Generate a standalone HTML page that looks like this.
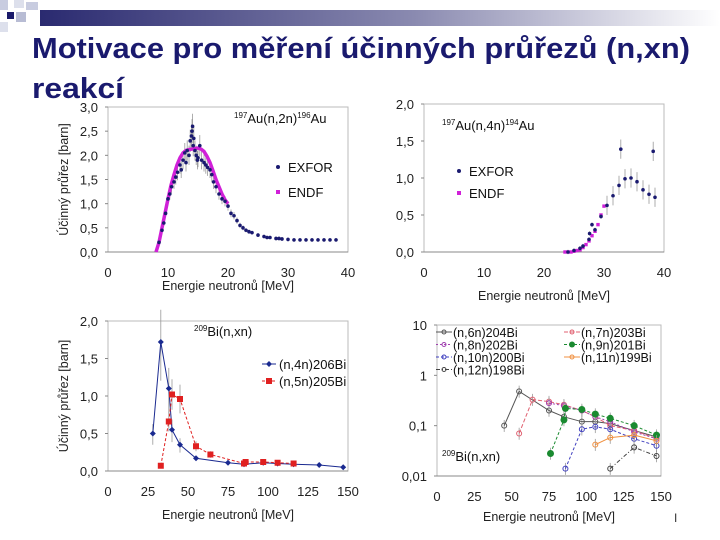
<!DOCTYPE html>
<html><head><meta charset="utf-8"><style>
html,body{margin:0;padding:0;background:#fff;}
svg{display:block;font-family:"Liberation Sans",sans-serif;}
</style></head><body>
<svg id="s" width="720" height="540" viewBox="0 0 720 540">
<defs><linearGradient id="g" x1="0" x2="1"><stop offset="0" stop-color="#2a2a70"/><stop offset="0.55" stop-color="#8a8ab0"/><stop offset="1" stop-color="#ffffff"/></linearGradient></defs>
<g>
<rect x="40" y="10" width="680" height="16" fill="url(#g)"/>
<rect x="0" y="0" width="8" height="10" fill="#c8cce0"/>
<rect x="14" y="0" width="10" height="8" fill="#dde0ec"/>
<rect x="7" y="12" width="7" height="7" fill="#1a1a6a"/>
<rect x="16" y="12" width="10" height="10" fill="#b8bcd4"/>
<rect x="0" y="22" width="8" height="10" fill="#dde0ec"/>
<rect x="26" y="2" width="12" height="8" fill="#c8cce0"/>
</g>
<text x="32" y="58" font-size="29" font-weight="bold" fill="#1a1a6e" textLength="658" lengthAdjust="spacingAndGlyphs">Motivace pro měření účinných průřezů (n,xn)</text>
<text x="32" y="98" font-size="29" font-weight="bold" fill="#1a1a6e" textLength="92" lengthAdjust="spacingAndGlyphs">reakcí</text>
<text x="674" y="522" font-size="12" fill="#333">I</text>
<g id="c1"></g>
<g id="c2"></g>
<g id="c3"></g>
<g id="c4"></g>
</svg>
<script>
// Chart 1 data
const c1ExforE=[8.5,9,9.3,9.6,10,10.3,10.6,11,11.3,11.6,12,12.2,12.5,12.8,13,13.2,13.5,13.7,13.9,14,14.1,14.2,14.3,14.5,14.7,14.9,15,15.3,15.6,16,16.3,16.6,17,17.3,17.6,18,18.5,19,19.5,20,20.5,21,21.5,22,22.5,23,23.5,24,25,26,26.5,27,28,28.5,29,30,31,32,33,34,35,36,37,38];
const c1ExforV=[0.2,0.45,0.6,0.8,1.1,1.2,1.35,1.45,1.55,1.65,1.8,1.7,1.9,2.05,1.85,2.1,2.0,2.3,2.4,2.5,2.6,2.2,2.35,2.1,2.0,1.9,1.95,2.2,1.9,1.85,1.8,1.75,1.7,1.6,1.45,1.35,1.2,1.1,1.05,0.95,0.8,0.75,0.65,0.55,0.5,0.45,0.42,0.4,0.35,0.32,0.3,0.3,0.28,0.28,0.27,0.26,0.25,0.25,0.25,0.25,0.25,0.25,0.25,0.25];
const c1EndfE=[8,8.5,9,9.5,10,10.5,11,11.5,12,12.5,13,13.5,14,14.5,15,15.5,16,16.5,17,17.5,18,18.5,19,19.5,20];
const c1EndfV=[0,0.2,0.5,0.8,1.1,1.38,1.6,1.8,1.95,2.05,2.1,2.12,2.13,2.14,2.15,2.13,2.08,1.98,1.85,1.68,1.5,1.35,1.2,1.08,1.0];
const c1XTicks=[0,10,20,30,40];
const c1YTicks=[0,0.5,1,1.5,2,2.5,3];
// Chart 2 data
const c2ExforE=[24,25,26,26.5,27.5,27.6,28,28.5,29.5,30.5,31.5,32.5,32.8,33.5,34.5,35.5,36.5,37.5,38.2,38.5];
const c2ExforV=[0,0.02,0.05,0.08,0.17,0.25,0.37,0.3,0.48,0.63,0.76,0.9,1.39,0.99,1.0,0.95,0.84,0.78,1.36,0.74];
const c2EndfE=[23.5,24,24.5,25,25.5,26,26.5,27,27.5,28,28.5,29,29.5,30];
const c2EndfV=[0,0,0,0.01,0.02,0.03,0.06,0.1,0.15,0.22,0.28,0.37,0.5,0.62];
const c2XTicks=[0,10,20,30,40];
const c2YTicks=[0,0.5,1,1.5,2];
// Chart 3 data
const c3BlueE=[28,33,38,40,45,55,75,85,97,106,116,132,147];
const c3BlueV=[0.5,1.72,1.1,0.55,0.35,0.17,0.11,0.09,0.11,0.1,0.09,0.08,0.05];
const c3RedE=[33,38,40,45,55,64,85,86,97,106,116];
const c3RedV=[0.07,0.66,1.02,0.96,0.33,0.22,0.1,0.12,0.12,0.11,0.1];
const c3XTicks=[0,25,50,75,100,125,150];
const c3YTicks=[0,0.5,1,1.5,2];
// Chart 4 data
const c4Names=["(n,6n)204Bi","(n,7n)203Bi","(n,8n)202Bi","(n,9n)201Bi","(n,10n)200Bi","(n,11n)199Bi","(n,12n)198Bi"];
const c4E6=[45,55,75,85,97,106,116,132,147];
const c4V6=[0.1,0.48,0.2,0.15,0.12,0.12,0.11,0.08,0.06];
const c4E7=[55,64,75,85,97,106,116,132,147];
const c4V7=[0.07,0.33,0.3,0.26,0.2,0.15,0.1,0.08,0.055];
const c4E8=[75,85,97,106,116,132,147];
const c4V8=[0.28,0.25,0.2,0.15,0.12,0.075,0.055];
const c4E9=[76,85,86,97,106,116,132,147];
const c4V9=[0.028,0.13,0.22,0.21,0.17,0.14,0.1,0.065];
const c4E10=[86,97,106,116,132,147];
const c4V10=[0.014,0.085,0.095,0.085,0.055,0.04];
const c4E11=[106,116,132,147];
const c4V11=[0.042,0.058,0.065,0.05];
const c4E12=[116,132,147];
const c4V12=[0.014,0.037,0.025];
const c4XTicks=[0,25,50,75,100,125,150];
const c4YTicks=[0.01,0.1,1,10];
const c4YLabels=["0,01","0,1","1","10"];

const NS="http://www.w3.org/2000/svg";
function mk(p,t,a){const e=document.createElementNS(NS,t);for(const k in a)e.setAttribute(k,a[k]);p.appendChild(e);return e;}
function fmt(v){return v.toFixed(1).replace('.',',');}

function axes(g,X,Y,x0,x1,y0,y1,xt,yt,ylab,xlabY,title){
  const f=mk(g,'rect',{x:x0,y:y1,width:x1-x0,height:y0-y1,fill:'none',stroke:'#bbb','stroke-width':1});
  
  
  const xa=mk(g,'line',{x1:x0,y1:y0,x2:x1,y2:y0,stroke:'#888'});
  
  
  xt.forEach(v=>{const t=mk(g,'text',{x:X(v),y:y0+25,'font-size':13,'text-anchor':'middle',fill:'#222'});t.textContent=v;
    
    });
  yt.forEach((v,i)=>{const t=mk(g,'text',{x:x0-10,y:Y(v)+5,'font-size':13,'text-anchor':'end',fill:'#222'});t.textContent=ylab?ylab[i]:fmt(v);
    
    
    mk(g,'line',{x1:x0-3,y1:Y(v),x2:x0,y2:Y(v),stroke:'#888'});});
  const xtl=mk(g,'text',{x:(x0+x1)/2,y:xlabY,'font-size':12.5,'text-anchor':'middle',fill:'#222'});xtl.textContent='Energie neutronů [MeV]';
  
  
  if(title){const yl=mk(g,'text',{x:0,y:0,'font-size':12.5,'text-anchor':'middle',fill:'#222',transform:`translate(${x0-40},${(y0+y1)/2}) rotate(-90)`});yl.textContent='Účinný průřez [barn]';
    
    }
}
function err(g,x,y1,y2,c){mk(g,'line',{x1:x,y1:y1,x2:x,y2:y2,stroke:c||'#999','stroke-width':0.8});}
function label(g,x,y,main,sup1,rest,sup2,tail){
  const t=mk(g,'text',{x:x,y:y,'font-size':13,fill:'#111'});
  
  
  const a=mk(t,'tspan',{'font-size':8,dy:-5});a.textContent=sup1;
  const b=mk(t,'tspan',{dy:5});b.textContent=rest;
  if(sup2){const c=mk(t,'tspan',{'font-size':8,dy:-5});c.textContent=sup2;const d=mk(t,'tspan',{dy:5});d.textContent=tail;}
}
function legendDot(g,x,y,c,txt,sq){
  if(sq)mk(g,'rect',{x:x-2,y:y-2,width:4,height:4,fill:c});else mk(g,'circle',{cx:x,cy:y,r:2,fill:c});
  const t=mk(g,'text',{x:x+10,y:y+5,'font-size':13,fill:'#111'});t.textContent=txt;
  
  
}

// Chart 1
(function(){const g=document.getElementById('c1');
 const x0=108,x1=348,y0=252,y1=107;
 const X=v=>x0+v/40*(x1-x0),Y=v=>y0-v/3*(y0-y1);
 axes(g,X,Y,x0,x1,y0,y1,c1XTicks,c1YTicks,null,290,true);
 c1ExforE.forEach((e,i)=>{const v=c1ExforV[i];const d=Math.max(0.04,v*0.1);err(g,X(e),Y(v-d),Y(v+d));});
 const p=mk(g,'polyline',{points:c1EndfE.map((e,i)=>X(e)+','+Y(c1EndfV[i])).join(' '),fill:'none',stroke:'#d020d8','stroke-width':3.5});
 
 
 c1ExforE.forEach((e,i)=>{const c=mk(g,'circle',{cx:X(e),cy:Y(c1ExforV[i]),r:1.8,fill:'#1a1a70'});
  
  });
 label(g,234,123,'','197','Au(n,2n)','196','Au');
 legendDot(g,278,167,'#1a1a70','EXFOR');legendDot(g,278,192,'#d020d8','ENDF',true);
})();
// Chart 2
(function(){const g=document.getElementById('c2');
 const x0=424,x1=664,y0=252,y1=104;
 const X=v=>x0+v/40*(x1-x0),Y=v=>y0-v/2*(y0-y1);
 axes(g,X,Y,x0,x1,y0,y1,c2XTicks,c2YTicks,null,300,false);
 c2ExforE.forEach((e,i)=>{const v=c2ExforV[i];const d=v>0.5?0.13:0.03;err(g,X(e),Y(v-d),Y(v+d));});
 c2EndfE.forEach((e,i)=>{const r=mk(g,'rect',{x:X(e)-1.7,y:Y(c2EndfV[i])-1.7,width:3.4,height:3.4,fill:'#d020d8'});
  
  });
 c2ExforE.forEach((e,i)=>{const c=mk(g,'circle',{cx:X(e),cy:Y(c2ExforV[i]),r:1.8,fill:'#1a1a70'});
  
  });
 label(g,442,130,'','197','Au(n,4n)','194','Au');
 legendDot(g,459,171,'#1a1a70','EXFOR');legendDot(g,459,193,'#d020d8','ENDF',true);
})();
// Chart 3
(function(){const g=document.getElementById('c3');
 const x0=108,x1=348,y0=471,y1=321;
 const X=v=>x0+v/150*(x1-x0),Y=v=>y0-v/2*(y0-y1);
 axes(g,X,Y,x0,x1,y0,y1,c3XTicks,c3YTicks,null,519,true);
 c3BlueE.forEach((e,i)=>{const v=c3BlueV[i];if(v>0.2)err(g,X(e),Y(v*0.7),Y(v*1.25));});
 c3RedE.forEach((e,i)=>{const v=c3RedV[i];if(v>0.2)err(g,X(e),Y(v*0.8),Y(v*1.2));});
 const b=mk(g,'polyline',{points:c3BlueE.map((e,i)=>X(e)+','+Y(c3BlueV[i])).join(' '),fill:'none',stroke:'#1a2a90','stroke-width':1});
 
 
 const r=mk(g,'polyline',{points:c3RedE.map((e,i)=>X(e)+','+Y(c3RedV[i])).join(' '),fill:'none',stroke:'#e02020','stroke-width':1,'stroke-dasharray':'3,2'});
 
 
 c3BlueE.forEach((e,i)=>{const c=mk(g,'path',{d:`M${X(e)},${Y(c3BlueV[i])-3}l3,3l-3,3l-3,-3z`,fill:'#1a2a90'});
  
  });
 c3RedE.forEach((e,i)=>{const c=mk(g,'rect',{x:X(e)-3,y:Y(c3RedV[i])-3,width:6,height:6,fill:'#e02020'});
  
  });
 label(g,194,336,'','209','Bi(n,xn)');
 mk(g,'line',{x1:262,y1:364,x2:276,y2:364,stroke:'#1a2a90'});mk(g,'path',{d:'M269,361l3,3l-3,3l-3,-3z',fill:'#1a2a90'});
 let t=mk(g,'text',{x:279,y:369,'font-size':13,fill:'#111'});t.textContent='(n,4n)206Bi';
 
 
 mk(g,'line',{x1:262,y1:381,x2:276,y2:381,stroke:'#e02020','stroke-dasharray':'3,2'});mk(g,'rect',{x:266,y:378,width:6,height:6,fill:'#e02020'});
 t=mk(g,'text',{x:279,y:386,'font-size':13,fill:'#111'});t.textContent='(n,5n)205Bi';
 
 
})();
// Chart 4
(function(){const g=document.getElementById('c4');
 const x0=437,x1=661,y0=476,y1=325;
 const X=v=>x0+v/150*(x1-x0),Y=v=>y0-(Math.log10(v)+2)/3*(y0-y1);
 axes(g,X,Y,x0,x1,y0,y1,c4XTicks,c4YTicks,c4YLabels,521,false);
 const S=[[c4E6,c4V6,'#555','','tri'],[c4E7,c4V7,'#e06070','4,2','x'],[c4E8,c4V8,'#a040b0','2,2','star'],[c4E9,c4V9,'#1a8a30','3,2','dot'],[c4E10,c4V10,'#4040c0','3,2','circ'],[c4E11,c4V11,'#f09040','','sq'],[c4E12,c4V12,'#444','4,2,1,2','itri']];
 S.forEach((s,k)=>{
  s[0].forEach((e,i)=>err(g,X(e),Y(s[1][i]*0.75),Y(s[1][i]*1.3)));
  const l=mk(g,'polyline',{points:s[0].map((e,i)=>X(e)+','+Y(s[1][i])).join(' '),fill:'none',stroke:s[2],'stroke-width':1,'stroke-dasharray':s[3]});
  
  
  s[0].forEach((e,i)=>{const x=X(e),y=Y(s[1][i]);
   const m=s[4]==='dot'?mk(g,'circle',{cx:x,cy:y,r:3.5,fill:s[2]}):mk(g,'circle',{cx:x,cy:y,r:2.5,fill:'none',stroke:s[2]});
   
   });
  const col=k%2,row=Math.floor(k/2);const lx=col?574:446,ly=332+row*12.5;
  mk(g,'line',{x1:lx-10,y1:ly,x2:lx+6,y2:ly,stroke:s[2],'stroke-dasharray':s[3]});
  if(s[4]==='dot')mk(g,'circle',{cx:lx-2,cy:ly,r:3,fill:s[2]});else mk(g,'circle',{cx:lx-2,cy:ly,r:2,fill:'none',stroke:s[2]});
  const t=mk(g,'text',{x:lx+7,y:ly+5,'font-size':12.5,fill:'#111'});t.textContent=c4Names[k];
  
  
 });
 label(g,442,461,'','209','Bi(n,xn)');
})();
</script>
</body></html>
